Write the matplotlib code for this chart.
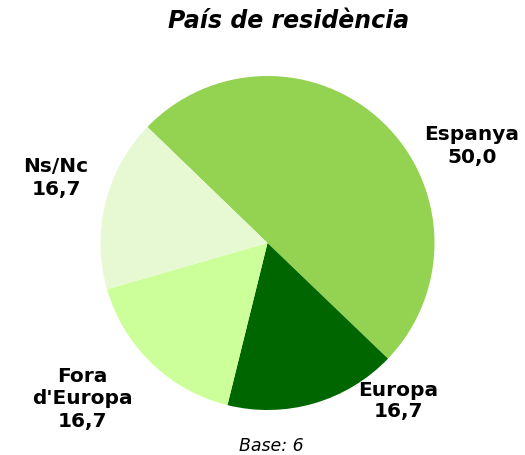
import matplotlib
matplotlib.use("Agg")
import matplotlib.pyplot as plt

categories = ["Espanya", "Europa", "Fora\nd'Europa", "Ns/Nc"]
values = [50.0, 16.7, 16.7, 16.7]
value_labels = ["50,0", "16,7", "16,7", "16,7"]
title = "País de residència"
base_note = "Base: 6"

colors = ["#94D352", "#006600", "#CCFF99", "#E6F9D3"]
# label centres in pixel coords (x, y from top)
label_pos = [(472, 146), (398, 401), (82, 399), (56, 178)]

W, H = 525, 455
fig = plt.figure(figsize=(W / 100, H / 100), dpi=100)
cx, cy, r = 267.5, 243, 167
ax = fig.add_axes([(cx - r) / W, 1 - (cy + r) / H, 2 * r / W, 2 * r / H])
ax.pie(values, colors=colors, startangle=136, counterclock=False,
       radius=1, wedgeprops=dict(linewidth=0))
ax.set_xlim(-1, 1)
ax.set_ylim(-1, 1)
ax.axis("off")

for cat, val, (px, py) in zip(categories, value_labels, label_pos):
    fig.text(px / W, 1 - py / H, f"{cat}\n{val}", ha="center", va="center",
             fontsize=14.5, fontweight="bold", family="DejaVu Sans",
             linespacing=1.2)

fig.text(289 / W, 1 - 21 / H, title, ha="center", va="center",
         fontsize=17, fontweight="bold", style="italic", family="DejaVu Sans")
fig.text(271 / W, 1 - 446 / H, base_note, ha="center", va="center",
         fontsize=12.5, style="italic", family="DejaVu Sans")

fig.savefig("out.png", dpi=100)
